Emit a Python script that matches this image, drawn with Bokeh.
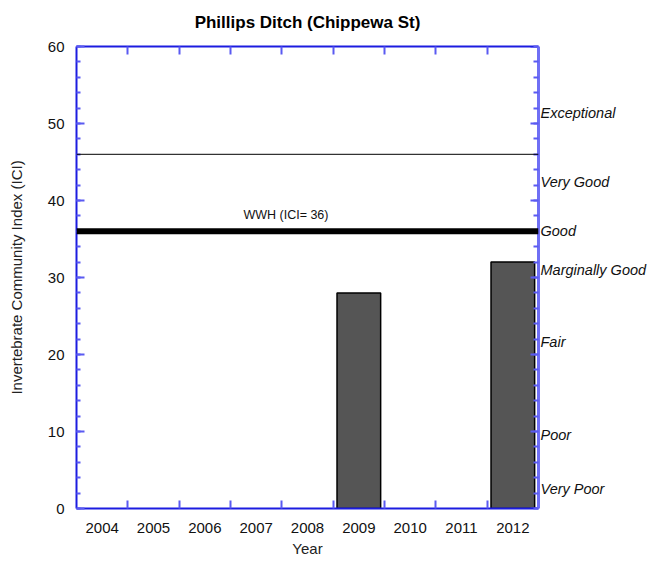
import math
from bokeh.plotting import figure
from bokeh.models import Range1d, LinearAxis, FixedTicker, Span, Label, CustomJSTickFormatter
from bokeh.embed import file_html
from bokeh.resources import INLINE

# ---- data ----
years = [2004, 2005, 2006, 2007, 2008, 2009, 2010, 2011, 2012]
ici = [None, None, None, None, None, 28, None, None, 32]
wwh_criterion = 36
upper_line = 46
wwh_text = "WWH (ICI= 36)"
wwh_text_x = 2007.58
rating_labels = ["Exceptional", "Very Good", "Good", "Marginally Good", "Fair", "Poor", "Very Poor"]
rating_label_y = [51.3, 42.4, 36, 31, 21.6, 9.6, 2.5]
y_major = [0, 10, 20, 30, 40, 50, 60]
y_minor = list(range(0, 61, 2))
title_text = "Phillips Ditch (Chippewa St)"

FONT = "Liberation Sans"
AXIS_BLUE = "#1c1ce0"
TICK_BLUE = "#5a5af2"

bx = [y for y, v in zip(years, ici) if v is not None]
bv = [v for v in ici if v is not None]
boundaries = [y + 0.5 for y in years[:-1]]

p = figure(width=649, height=559, output_backend="svg", toolbar_location=None,
           x_range=Range1d(years[0] - 0.5, years[-1] + 0.5), y_range=Range1d(0, 60),
           min_border_left=76, min_border_right=110, min_border_top=45, min_border_bottom=51,
           title=title_text)
p.grid.visible = False
p.outline_line_color = None
p.border_fill_color = "white"

p.title.align = "center"
p.title.vertical_align = "top"
p.title.text_font = FONT
p.title.text_font_size = "17px"
p.title.text_font_style = "bold"
p.title.text_color = "black"
p.title.standoff = 25

# bars
p.vbar(x=bx, top=bv, width=0.85, bottom=0, fill_color="#555555", line_color="black", line_width=1.5)

# reference lines
p.add_layout(Span(location=upper_line, dimension="width", line_color="black", line_width=1))
p.add_layout(Span(location=wwh_criterion, dimension="width", line_color="black", line_width=6))
p.add_layout(Label(x=wwh_text_x, y=wwh_criterion, y_offset=9, text=wwh_text, text_align="center",
                   text_baseline="bottom", text_font=FONT, text_font_size="12.5px", text_color="#111111"))

# bottom axis
xa = p.xaxis[0]
xa.ticker = FixedTicker(ticks=years, minor_ticks=boundaries)
xa.axis_label = "Year"
xa.major_tick_line_color = None
xa.minor_tick_in = 8
xa.minor_tick_out = 0
xa.minor_tick_line_color = TICK_BLUE
xa.minor_tick_line_width = 2
xa.axis_line_color = AXIS_BLUE
xa.axis_line_width = 2
xa.major_label_standoff = 8
xa.major_label_text_font = FONT
xa.major_label_text_font_size = "15px"
xa.major_label_text_color = "#111111"
xa.axis_label_text_font = FONT
xa.axis_label_text_font_size = "15px"
xa.axis_label_text_font_style = "normal"
xa.axis_label_text_color = "#222222"
xa.axis_label_standoff = 4

# left axis
ya = p.yaxis[0]
ya.ticker = FixedTicker(ticks=y_major, minor_ticks=y_minor)
ya.axis_label = "Invertebrate Community Index (ICI)"
ya.major_tick_in = 8
ya.major_tick_out = 0
ya.minor_tick_in = 4
ya.minor_tick_out = 0
ya.major_tick_line_color = TICK_BLUE
ya.minor_tick_line_color = TICK_BLUE
ya.major_tick_line_width = 2
ya.minor_tick_line_width = 2
ya.axis_line_color = AXIS_BLUE
ya.axis_line_width = 2
ya.major_label_standoff = 12
ya.major_label_text_font = FONT
ya.major_label_text_font_size = "15px"
ya.major_label_text_color = "#111111"
ya.axis_label_text_font = FONT
ya.axis_label_text_font_size = "15px"
ya.axis_label_text_font_style = "normal"
ya.axis_label_text_color = "#222222"
ya.axis_label_standoff = 20

# top axis (tick marks only, at year boundaries)
ta = LinearAxis(ticker=FixedTicker(ticks=[], minor_ticks=boundaries))
ta.major_tick_line_color = None
ta.minor_tick_in = 8
ta.minor_tick_out = 0
ta.minor_tick_line_color = TICK_BLUE
ta.minor_tick_line_width = 2
ta.axis_line_color = AXIS_BLUE
ta.axis_line_width = 2
ta.major_label_standoff = 0
p.add_layout(ta, "above")

# right axis: rating labels + minor ticks
fmt = CustomJSTickFormatter(args=dict(ys=rating_label_y, labels=rating_labels),
                            code="const i = ys.indexOf(tick); return i >= 0 ? labels[i] : '';")
ra = LinearAxis(ticker=FixedTicker(ticks=rating_label_y, minor_ticks=y_minor), formatter=fmt)
ra.major_tick_line_color = None
ra.major_tick_in = 0
ra.major_tick_out = 0
ra.minor_tick_in = 5
ra.minor_tick_out = 0
ra.minor_tick_line_color = TICK_BLUE
ra.minor_tick_line_width = 2
ra.axis_line_color = "#6f6ff5"
ra.axis_line_width = 3
ra.major_label_standoff = 2
ra.major_label_text_font = FONT
ra.major_label_text_font_size = "14.5px"
ra.major_label_text_font_style = "italic"
ra.major_label_text_color = "#111111"
p.add_layout(ra, "right")

# longer right-side ticks at the major y values
p.ray(x=years[-1] + 0.5, y=y_major, length=8, length_units="screen", angle=math.pi,
      line_color=TICK_BLUE, line_width=2)

open("out.html", "w").write(file_html(p, INLINE))
